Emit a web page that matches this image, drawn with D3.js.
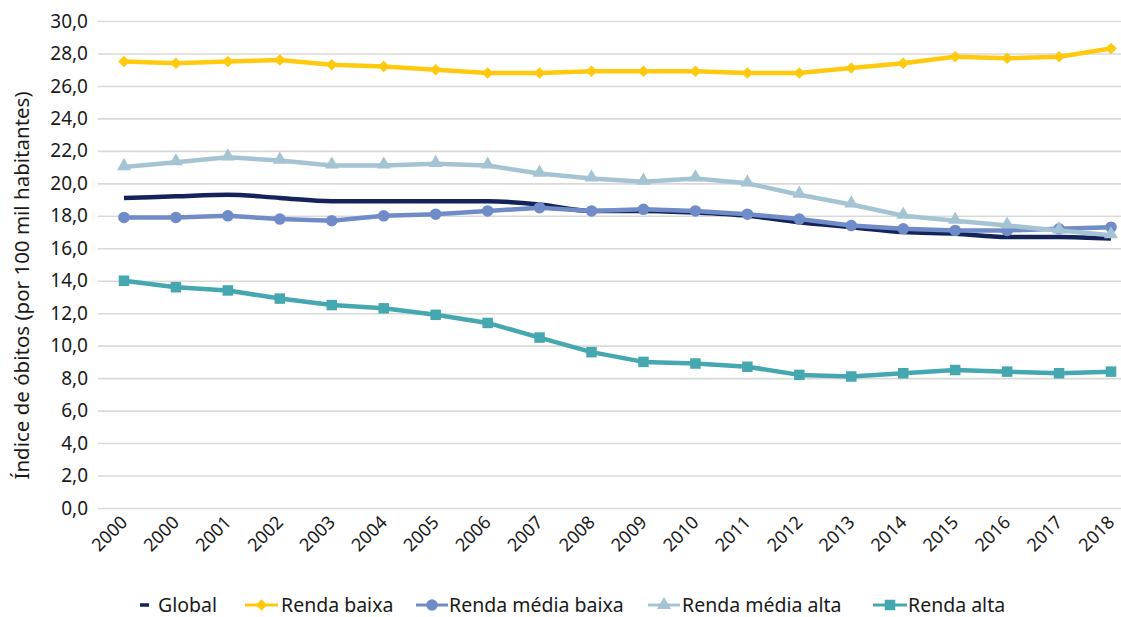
<!DOCTYPE html>
<html>
<head>
<meta charset="utf-8">
<script src="https://cdn.jsdelivr.net/npm/d3@7"></script>
<style>
  html, body { margin: 0; padding: 0; background: #fff; }
  svg { display: block; font-family: "Noto Sans", "Open Sans", sans-serif; }
</style>
</head>
<body>
<svg id="chart" width="1121" height="617"></svg>
<script>
// Category labels along the x axis (the first year appears twice in the source table)
const years = ["2000","2000","2001","2002","2003","2004","2005","2006","2007","2008",
               "2009","2010","2011","2012","2013","2014","2015","2016","2017","2018"];

// Death rate per 100 thousand inhabitants, by income group
const global          = [19.1,19.2,19.3,19.1,18.9,18.9,18.9,18.9,18.7,18.3,18.3,18.2,18.0,17.6,17.3,17.0,16.9,16.7,16.7,16.6];
const rendaBaixa      = [27.5,27.4,27.5,27.6,27.3,27.2,27.0,26.8,26.8,26.9,26.9,26.9,26.8,26.8,27.1,27.4,27.8,27.7,27.8,28.3];
const rendaMediaBaixa = [17.9,17.9,18.0,17.8,17.7,18.0,18.1,18.3,18.5,18.3,18.4,18.3,18.1,17.8,17.4,17.2,17.1,17.1,17.2,17.3];
const rendaMediaAlta  = [21.0,21.3,21.6,21.4,21.1,21.1,21.2,21.1,20.6,20.3,20.1,20.3,20.0,19.3,18.7,18.0,17.7,17.4,17.1,16.8];
const rendaAlta       = [14.0,13.6,13.4,12.9,12.5,12.3,11.9,11.4,10.5,9.6,9.0,8.9,8.7,8.2,8.1,8.3,8.5,8.4,8.3,8.4];

const yTicks = [0,2,4,6,8,10,12,14,16,18,20,22,24,26,28,30];

const seriesNames = ["Global","Renda baixa","Renda média baixa","Renda média alta","Renda alta"];
const seriesData  = [global, rendaBaixa, rendaMediaBaixa, rendaMediaAlta, rendaAlta];

const styles = [
  { color: "#14245a", marker: null },
  { color: "#ffc90e", marker: "diamond" },
  { color: "#6f8cc8", marker: "circle" },
  { color: "#a5c4d3", marker: "triangle" },
  { color: "#45a7af", marker: "square" }
];

const svg = d3.select("#chart");
const plotLeft = 98, plotTop = 21, plotBottom = 508;
const band = 51.95;
const idx = d3.range(years.length);

const x = d3.scaleBand().domain(idx).range([plotLeft, plotLeft + band * years.length]).padding(0);
const cx = i => x(i) + x.bandwidth() / 2;
const y = d3.scaleLinear().domain([0, 30]).range([plotBottom, plotTop]);

const fmt = v => d3.format(".1f")(v).replace(".", ",");

// Horizontal gridlines and y tick labels
const yAxis = svg.append("g")
  .attr("transform", `translate(${plotLeft},0)`)
  .call(d3.axisLeft(y).tickValues(yTicks).tickFormat(fmt)
        .tickSize(-(band * years.length)).tickPadding(10));
yAxis.select(".domain").remove();
yAxis.selectAll(".tick line").attr("stroke", "#d9d9d9").attr("stroke-width", 1.6);
yAxis.selectAll(".tick text").attr("fill", "#1a1a1a").style("font-size", "19px")
  .style("font-family", "'Noto Sans', sans-serif");

// X axis labels, rotated
const xAxis = svg.append("g")
  .attr("transform", `translate(0,${plotBottom})`)
  .call(d3.axisBottom(x).tickFormat(i => years[i]).tickSize(0));
xAxis.select(".domain").remove();
xAxis.selectAll(".tick text")
  .attr("fill", "#1a1a1a").style("font-size", "18px")
  .style("font-family", "'Noto Sans', sans-serif")
  .attr("text-anchor", "end")
  .attr("dy", "0.35em")
  .attr("y", 0)
  .attr("transform", "translate(0,11) rotate(-45)");

// Y axis title
svg.append("text")
  .attr("transform", `translate(29,${(plotTop + plotBottom) / 2 + 21}) rotate(-90)`)
  .attr("text-anchor", "middle")
  .attr("fill", "#1a1a1a")
  .style("font-size", "20.5px")
  .text("Índice de óbitos (por 100 mil habitantes)");

// Marker shapes
const symbolFor = {
  diamond:  d3.symbol().type(d3.symbolDiamond2).size(85),
  circle:   d3.symbol().type(d3.symbolCircle).size(105),
  triangle: d3.symbol().type(d3.symbolTriangle).size(85),
  square:   d3.symbol().type(d3.symbolSquare).size(110)
};

const straight = d3.line().x((d, i) => cx(i)).y(d => y(d));
const smooth = d3.line().x((d, i) => cx(i)).y(d => y(d)).curve(d3.curveMonotoneX);

seriesData.forEach((vals, s) => {
  const st = styles[s];
  const g = svg.append("g");
  g.append("path")
    .attr("fill", "none")
    .attr("stroke", st.color)
    .attr("stroke-width", 4.5)
    .attr("stroke-linejoin", "round")
    .attr("d", s === 0 ? smooth(vals) : straight(vals));
  if (st.marker) {
    g.selectAll("path.m")
      .data(vals)
      .join("path")
      .attr("class", "m")
      .attr("d", symbolFor[st.marker])
      .attr("transform", (d, i) => `translate(${cx(i)},${y(d) + (st.marker === "triangle" ? -1 : 0)})`)
      .attr("fill", st.color);
  }
});

// Legend
const legendY = 605;
const legendItems = [
  { lineX: [140, 149], textX: 158 },
  { lineX: [245, 278], textX: 281 },
  { lineX: [416, 448], textX: 449 },
  { lineX: [648, 680], textX: 682 },
  { lineX: [873, 907], textX: 908 }
];
const lg = svg.append("g");
legendItems.forEach((it, s) => {
  const st = styles[s];
  lg.append("line")
    .attr("x1", it.lineX[0]).attr("x2", it.lineX[1])
    .attr("y1", legendY).attr("y2", legendY)
    .attr("stroke", st.color).attr("stroke-width", s === 0 ? 3.5 : 3);
  if (st.marker) {
    lg.append("path")
      .attr("d", symbolFor[st.marker])
      .attr("transform", `translate(${(it.lineX[0] + it.lineX[1]) / 2},${legendY})`)
      .attr("fill", st.color);
  }
  lg.append("text")
    .attr("x", it.textX).attr("y", legendY)
    .attr("dy", "0.35em")
    .attr("fill", "#1a1a1a")
    .style("font-size", "19.5px")
    .text(seriesNames[s]);
});
</script>
</body>
</html>
